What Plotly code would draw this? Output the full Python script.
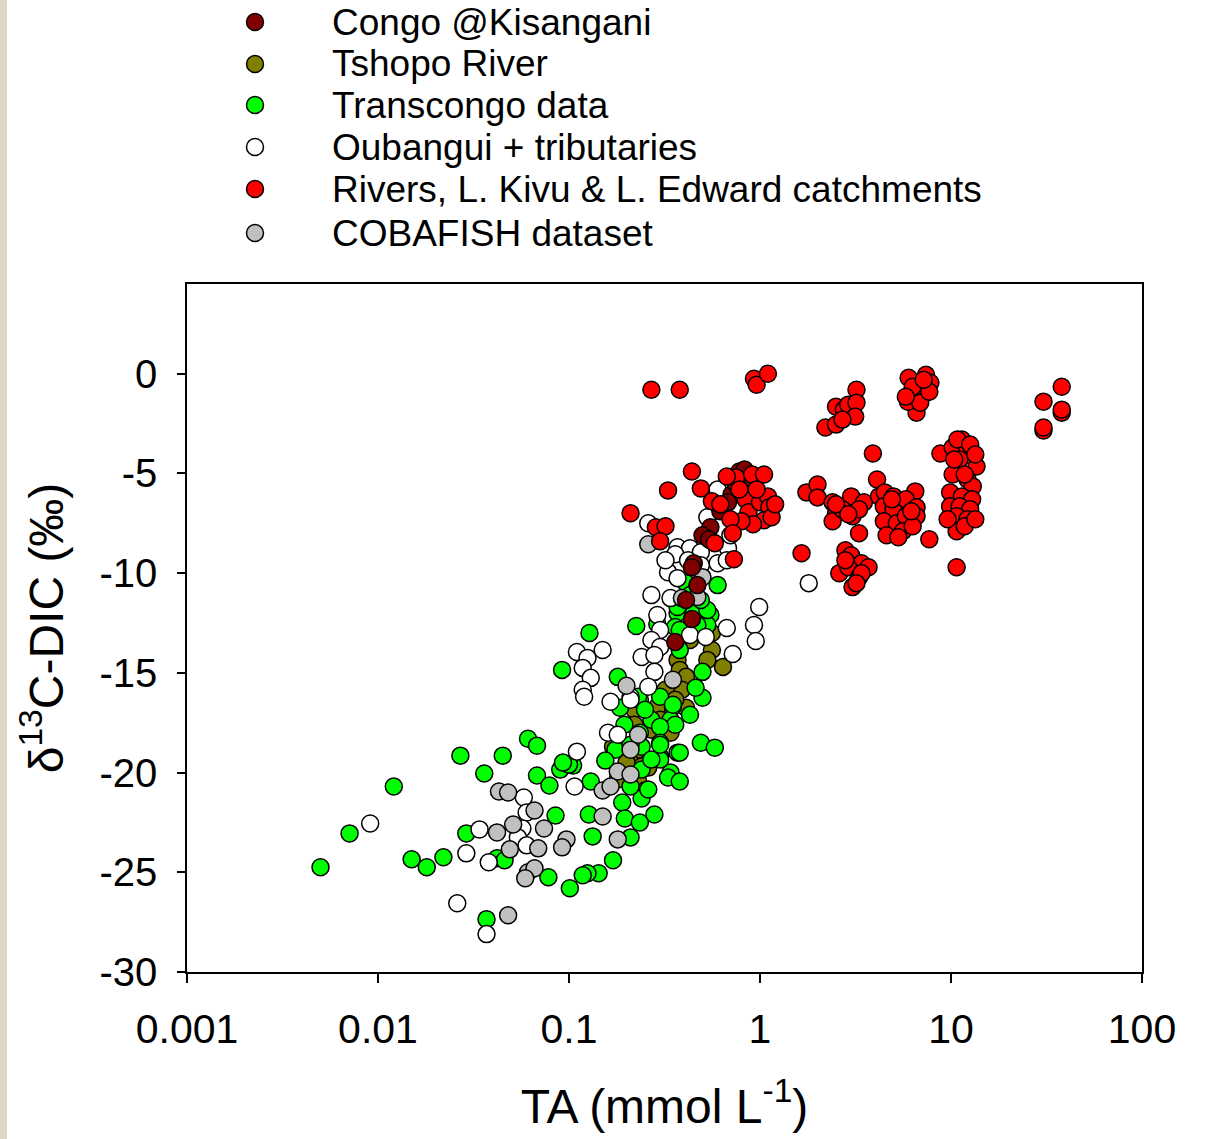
import plotly.graph_objects as go

# ---------------- data (TA in mmol/L, d13C-DIC in permil) ----------------
congo_ta = [0.78, 0.85, 0.91, 0.71, 0.68, 0.55, 0.50, 0.45, 0.44, 0.44, 0.36, 0.75, 0.62, 0.47, 0.41, 0.54, 0.83]
congo_d13 = [-4.9, -5.0, -5.45, -6.05, -6.45, -7.7, -8.1, -9.5, -9.7, -12.3, -13.45, -5.55, -6.9, -10.6, -11.35, -8.3, -4.8]

tshopo_ta = [0.56, 0.53, 0.64, 0.37, 0.38, 0.41, 0.39, 0.41, 0.29, 0.34, 0.22, 0.18, 0.23, 0.21,
             0.26, 0.30, 0.56, 0.24, 0.23, 0.20, 0.17, 0.43, 0.32, 0.27, 0.36, 0.22, 0.25, 0.18]
tshopo_d13 = [-13.85, -14.35, -14.7, -14.35, -14.85, -15.2, -15.85, -16.75, -16.7, -18.0, -16.85, -18.5, -18.85, -19.5,
              -19.75, -17.35, -13.0, -19.7, -20.45, -19.5, -18.7, -13.35, -15.85, -17.85, -16.35, -17.6, -20.9, -20.35]

transcongo_ta = [0.005, 0.0071, 0.0121, 0.015, 0.018, 0.022, 0.027, 0.029, 0.036, 0.037, 0.042, 0.045, 0.046,
                 0.061, 0.068, 0.068, 0.079, 0.09, 0.105, 0.13, 0.085, 0.127, 0.133, 0.17, 0.143, 0.125, 0.118,
                 0.101, 0.078, 0.128, 0.225, 0.092, 0.18, 0.37, 0.45, 0.55, 0.53, 0.36, 0.50, 0.50, 0.46, 0.35,
                 0.30, 0.235, 0.185, 0.27, 0.34, 0.36, 0.30, 0.195, 0.235, 0.30, 0.49, 0.58, 0.37, 0.30, 0.24,
                 0.24, 0.34, 0.10, 0.093, 0.23, 0.19, 0.196, 0.21, 0.235, 0.28, 0.24, 0.26, 0.21, 0.33, 0.38,
                 0.30, 0.30, 0.35, 0.38, 0.41, 0.37, 0.53, 0.60, 0.43, 0.47, 0.29, 0.38, 0.38, 0.27, 0.175,
                 0.21, 0.25, 0.43, 0.49, 0.155]
transcongo_d13 = [-24.75, -23.05, -20.7, -24.35, -24.75, -24.25, -19.15, -23.05, -20.05, -27.35, -24.3, -19.15, -24.4,
                  -18.3, -18.65, -20.15, -20.65, -19.85, -19.65, -20.45, -22.15, -22.1, -23.2, -24.4, -25.05, -25.05, -25.15,
                  -25.8, -25.25, -13.0, -12.65, -14.85, -15.2, -12.0, -12.0, -12.1, -12.6, -12.7, -14.95, -16.25, -15.75, -16.7,
                  -16.2, -16.35, -16.75, -17.35, -17.35, -17.6, -17.7, -17.6, -18.0, -18.5, -18.5, -18.75, -19.0, -19.2, -18.7,
                  -19.85, -20.0, -19.6, -19.5, -16.2, -21.5, -22.3, -23.25, -22.5, -22.1, -21.3, -20.85, -20.7, -20.25, -20.45,
                  -19.35, -18.6, -16.6, -19.0, -10.5, -11.7, -11.85, -10.6, -11.1, -12.6, -12.55, -12.85, -13.85, -19.35, -18.85,
                  -18.6, -16.85, -17.1, -11.35, -19.4]

oubangui_ta = [0.60, 0.53, 0.26, 0.37, 0.43, 0.49, 0.55, 0.68, 0.33, 0.37, 0.60, 0.67, 0.27, 0.34, 0.99, 0.93,
               0.95, 0.72, 0.67, 1.8, 0.29, 0.30, 0.27, 0.30, 0.24, 0.28, 0.43, 0.52, 0.11, 0.125, 0.15, 0.118,
               0.13, 0.118, 0.12, 0.28, 0.26, 0.21, 0.165, 0.21, 0.16, 0.18, 0.11, 0.107, 0.058, 0.06, 0.057,
               0.054, 0.06, 0.034, 0.029, 0.038, 0.0091, 0.026, 0.037, 0.36, 0.49, 0.32, 0.42, 0.70]
oubangui_d13 = [-5.8, -7.2, -7.5, -8.7, -8.75, -8.95, -8.35, -8.75, -9.95, -10.25, -9.5, -9.35, -11.1, -11.25, -11.7, -12.6,
                -13.4, -14.05, -12.75, -10.5, -12.1, -12.85, -13.35, -13.7, -14.2, -14.1, -13.1, -13.2, -13.95, -14.25, -13.85, -14.75,
                -15.25, -15.85, -16.2, -14.95, -15.7, -16.2, -16.45, -16.35, -18.0, -18.1, -18.95, -20.7, -21.25, -22.0, -22.8,
                -23.25, -23.65, -22.85, -24.05, -24.5, -22.55, -26.55, -28.1, -9.05, -9.6, -9.35, -9.35, -8.1]

rivers_ta = [0.27, 0.38, 0.93, 0.96, 1.1,
             2.2, 2.5, 2.5, 2.75, 2.9, 3.2, 3.2, 3.15, 2.7,
             6.0, 6.6, 6.6, 5.95, 7.4, 7.8, 7.4, 6.3, 6.9, 5.8, 7.7, 7.2,
             30.5, 38, 38, 30.5, 38, 30.5,
             3.9, 4.1, 1.65, 7.7, 10.7,
             8.8, 11.4, 10.2, 12.2, 11.1, 13.6, 10.2, 12.2, 13.0, 9.9, 11.4, 12.9, 9.9, 11.1, 12.6, 10.7, 12.2,
             10.7, 11.8, 10.8, 12.6, 13.4, 9.6, 13.4, 10.4, 11.8,
             1.75, 2.0, 2.0, 2.4, 2.5, 2.4, 2.8, 3.0, 3.05, 3.5, 2.7, 3.3, 3.3, 2.5, 2.9,
             4.2, 4.5, 5.0, 6.5, 4.45, 5.0, 5.8, 6.6, 4.45, 5.2, 5.8, 6.6, 4.6, 5.6, 5.3, 6.3, 4.9, 6.2,
             2.8, 2.6, 3.0, 3.4, 3.7, 2.9, 3.3, 3.05, 3.4, 2.8, 3.2,
             0.21, 0.285, 0.32, 0.30, 0.33, 0.44, 0.49, 0.56, 0.62, 0.58, 0.73, 0.75, 0.91, 1.05, 0.84, 0.87,
             1.0, 1.1, 1.12, 1.05, 1.15, 0.92, 0.80, 0.70, 0.72, 0.67, 0.78, 0.96, 1.2]
rivers_d13 = [-0.8, -0.8, -0.25, -0.55, 0.0,
              -2.7, -2.55, -1.65, -1.8, -1.55, -0.8, -1.45, -2.15, -2.3,
              -0.2, -0.95, -1.95, -1.4, -0.05, -0.45, -0.95, -0.65, -1.45, -1.15, -0.9, -0.3,
              -1.4, -0.65, -1.95, -2.85, -1.8, -2.7,
              -4.0, -5.3, -9.0, -8.3, -9.7,
              -4.0, -3.3, -3.7, -3.8, -4.3, -4.65, -5.05, -5.3, -5.65, -5.95, -6.15, -6.3, -6.65, -6.65, -6.8, -7.15, -7.3,
              -7.9, -7.65, -3.3, -3.55, -4.05, -7.3, -7.3, -4.3, -5.05,
              -5.95, -5.55, -6.2, -6.45, -7.0, -7.4, -6.65, -6.15, -7.15, -6.45, -6.8, -6.8, -8.0, -6.55, -7.05,
              -6.15, -5.95, -6.15, -5.9, -6.65, -6.8, -6.3, -6.7, -7.4, -7.5, -7.15, -7.15, -8.1, -7.9, -8.2, -7.65, -6.3, -6.9,
              -8.85, -10.0, -9.1, -9.5, -9.7, -9.7, -10.2, -10.7, -10.0, -9.35, -10.5,
              -7.0, -7.7, -7.65, -8.4, -5.85, -4.9, -5.75, -6.4, -6.55, -8.5, -9.3, -5.2, -5.05, -5.05, -6.3, -6.95,
              -6.45, -6.15, -6.7, -7.35, -7.2, -7.55, -7.4, -7.3, -8.0, -5.15, -5.8, -5.8, -6.55]

cobafish_ta = [0.26, 0.50, 0.39, 0.47, 0.20, 0.35, 0.23, 0.21, 0.18, 0.21, 0.043, 0.048, 0.066, 0.051,
               0.042, 0.074, 0.097, 0.092, 0.069, 0.049, 0.061, 0.066, 0.059, 0.048, 0.15, 0.165, 0.15, 0.18]
cobafish_d13 = [-8.55, -10.2, -11.25, -11.2, -15.65, -15.35, -18.1, -18.85, -19.95, -20.1, -20.95, -21.0, -21.9, -22.6,
                -23.0, -22.8, -23.35, -23.75, -23.8, -23.85, -25.0, -24.8, -25.3, -27.15, -20.9, -20.7, -22.2, -23.35]

series_names = ["Congo @Kisangani", "Tshopo River", "Transcongo data", "Oubangui + tributaries",
                "Rivers, L. Kivu & L. Edward catchments", "COBAFISH dataset"]
series_colors = ["#800000", "#808000", "#00FF00", "#FFFFFF", "#FF0000", "#C0C0C0"]

x_tickvals = [0.001, 0.01, 0.1, 1, 10, 100]
x_ticktext = ["0.001", "0.01", "0.1", "1", "10", "100"]
y_tickvals = [0, -5, -10, -15, -20, -25, -30]
y_ticktext = ["0", "-5", "-10", "-15", "-20", "-25", "-30"]

FONT = "Liberation Sans, Arial, sans-serif"

data_by_series = {
    "Congo @Kisangani": (congo_ta, congo_d13),
    "Tshopo River": (tshopo_ta, tshopo_d13),
    "Transcongo data": (transcongo_ta, transcongo_d13),
    "Oubangui + tributaries": (oubangui_ta, oubangui_d13),
    "Rivers, L. Kivu & L. Edward catchments": (rivers_ta, rivers_d13),
    "COBAFISH dataset": (cobafish_ta, cobafish_d13),
}
color_of = dict(zip(series_names, series_colors))

# drawing order (bottom to top)
draw_order = ["Tshopo River", "Transcongo data", "Oubangui + tributaries", "COBAFISH dataset",
              "Congo @Kisangani", "Rivers, L. Kivu & L. Edward catchments"]

fig = go.Figure()
for name in draw_order:
    xs, ys = data_by_series[name]
    fig.add_trace(go.Scatter(
        x=xs, y=ys, mode="markers", name=name, showlegend=False,
        marker=dict(size=17, color=color_of[name], line=dict(color="black", width=1.5)),
        cliponaxis=False,
    ))

L, R, T, B = 187, 88, 284, 167
W, H = 1230, 1139
pw, ph = W - L - R, H - T - B

shapes = []
annotations = []
# left beige strip
shapes.append(dict(type="rect", xref="paper", yref="paper", xsizemode="pixel", xanchor=0,
                   x0=-L, x1=-L + 7, y0=-0.5, y1=2.0, fillcolor="#DDD8C4", line=dict(width=0), layer="below"))

# manual legend
legend_rows_px = [22, 64, 105, 147, 189, 233]
for name, row in zip(series_names, legend_rows_px):
    yp = 1 + (T - row) / ph
    shapes.append(dict(type="circle", xref="paper", yref="paper", xsizemode="pixel", ysizemode="pixel",
                       xanchor=(255 - L) / pw, yanchor=yp, x0=-8.5, x1=8.5, y0=-8.5, y1=8.5,
                       fillcolor=color_of[name], line=dict(color="black", width=1.5)))
    annotations.append(dict(text=name, xref="paper", yref="paper", x=(330 - L) / pw, y=yp,
                            xanchor="left", yanchor="middle", showarrow=False,
                            font=dict(family=FONT, size=37, color="black")))

fig.update_layout(
    width=W, height=H,
    margin=dict(l=L, r=R, t=T, b=B),
    paper_bgcolor="white", plot_bgcolor="white",
    font=dict(family=FONT, color="black"),
    shapes=shapes, annotations=annotations,
    showlegend=False,
)
fig.update_xaxes(
    type="log", range=[-3, 2], tickvals=x_tickvals, ticktext=x_ticktext,
    ticks="outside", ticklen=9, tickwidth=1.5, tickcolor="black",
    showline=True, linecolor="black", linewidth=1.5, mirror=True,
    showgrid=False, zeroline=False,
    tickfont=dict(family=FONT, size=41, color="black"), ticklabelstandoff=11,
    title=dict(text="TA (mmol L<sup>-1</sup>)", font=dict(family=FONT, size=48, color="black"), standoff=38),
)
fig.update_yaxes(
    range=[-30, 4.5], tickvals=y_tickvals, ticktext=y_ticktext,
    ticks="outside", ticklen=8, tickwidth=1.5, tickcolor="black",
    showline=True, linecolor="black", linewidth=1.5, mirror=True,
    showgrid=False, zeroline=False,
    tickfont=dict(family=FONT, size=40, color="black"), ticklabelstandoff=12,
    title=dict(text="δ<sup>13</sup>C-DIC (‰)", font=dict(family=FONT, size=48, color="black"), standoff=21),
)

fig.write_html("out.html")
